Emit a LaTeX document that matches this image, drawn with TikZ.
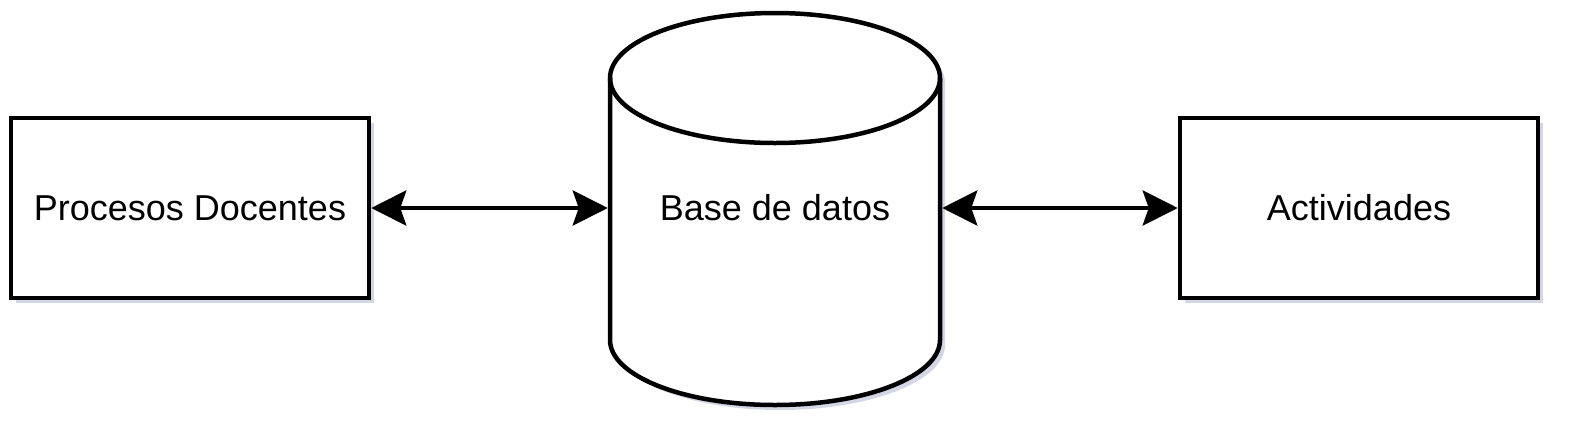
\documentclass[tikz,border=0pt]{standalone}
\usepackage{fontspec}
\setmainfont{Liberation Sans}
\usetikzlibrary{arrows.meta,positioning,shadows}
\definecolor{shadowblue}{RGB}{110,118,170}
\begin{document}
\begin{tikzpicture}[x=1pt,y=-1pt,line width=4.5pt,font=\fontsize{36}{43}\selectfont,
  box/.style={draw,fill=white,minimum width=358pt,minimum height=180pt,inner sep=0pt,
    drop shadow={shadow xshift=5pt,shadow yshift=-5pt,fill=shadowblue,opacity=.3}},
  link/.style={{Stealth[length=35pt,width=35pt,inset=6pt]}-{Stealth[length=35pt,width=35pt,inset=6pt]}}]
  \useasboundingbox (0,0) rectangle (1569,432);
  % cylinder for the database
  \fill[shadowblue,opacity=.3,shift={(5pt,-5pt)}] (610,78) -- (610,340)
    arc[start angle=180,end angle=360,x radius=165pt,y radius=65pt] -- (940,78)
    arc[start angle=0,end angle=180,x radius=165pt,y radius=65pt] -- cycle;
  \draw[fill=white] (610,78) -- (610,340)
    arc[start angle=180,end angle=360,x radius=165pt,y radius=65pt] -- (940,78)
    arc[start angle=0,end angle=180,x radius=165pt,y radius=65pt] -- cycle;
  \draw (610,78) arc[start angle=180,end angle=360,x radius=165pt,y radius=65pt];
  \node (db) [minimum width=330pt,minimum height=390pt,inner sep=0pt] at (775,208) {Base de datos};
  \node (pd) [box] at (190,208) {Procesos Docentes};
  \node (act) [box] at (1359,208) {Actividades};
  \draw[link] (pd.east) -- (db.west);
  \draw[link] (db.east) -- (act.west);
\end{tikzpicture}
\end{document}
